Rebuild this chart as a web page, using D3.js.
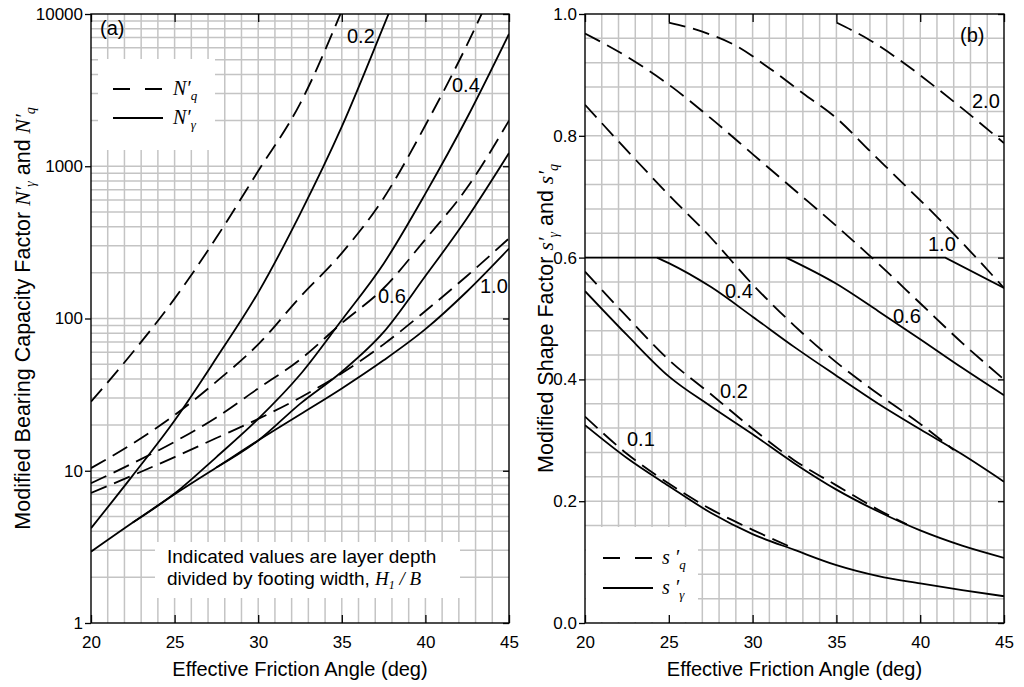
<!DOCTYPE html>
<html><head><meta charset="utf-8">
<script src="https://cdn.jsdelivr.net/npm/d3@7"></script>
<style>body{margin:0;background:#fff}svg{display:block}</style>
</head><body><svg id="c" width="1024" height="687"></svg>
<script>
// ---------- data: panel (a) bearing capacity factors ----------
const phi = [20,22.5,25,27.5,30,32.5,35,37.5,40,42.5,45];
const nqPhi02 = [20,22.5,25,27.5,30,32.5,35];
const nq02 = [28.4,60,135,340,930,2570,10500];
const nq04 = [10.4,15.1,23.2,38.5,67.6,138,269,617,1860,6310,25100];
const nq06 = [8.28,11.2,15.5,22.4,34.7,53.7,93.3,158,331,724,1995];
const nq10 = [7.14,9.33,12.3,16.4,21.9,30.2,43.7,67.6,112,191,336];
const ngPhi02 = [20,22.5,25,27.5,30,32.5,35,37.5,40];
const ng02 = [4.19,9.33,21.4,55,148,485,1820,8320,39800];
const ngPhi04 = [22.5,25,27.5,30,32.5,35,37.5,40,42.5,45];
const ng04 = [4.57,7.08,12.3,21.9,42.7,97.7,229,661,2090,7400];
const ngPhi06 = [27.5,30,32.5,35,37.5,40,42.5,45];
const ng06 = [10.5,15.8,27.5,44.7,81.3,190,457,1220];
const ng10 = [2.94,4.57,7.0,10.5,15.8,23.4,34.7,53.1,85.1,151,288];
const nLabels = ["0.2","0.4","0.6","1.0"];
const nTicks = [1,10,100,1000,10000];

// ---------- data: panel (b) shape factors ----------
const sqPhi20 = [35,37,39,41,43,45];
const sq20 = [0.986,0.957,0.92,0.878,0.834,0.788];
const sqPhi10 = [25,27,29,31,33,35,37,39,41,43,45];
const sq10 = [0.986,0.971,0.948,0.911,0.870,0.829,0.775,0.721,0.667,0.61,0.55];
const sq06 = [0.968,0.930,0.884,0.829,0.770,0.711,0.652,0.590,0.525,0.460,0.400];
const sqPhi04 = [20,22.5,25,27.5,30,32.5,35,37.5,40,42];
const sq04 = [0.851,0.776,0.703,0.633,0.556,0.488,0.428,0.376,0.327,0.284];
const sqPhi02 = [20,22.5,25,27.5,30,32.5,35,37.5,39.2];
const sq02 = [0.577,0.503,0.432,0.376,0.319,0.267,0.226,0.186,0.162];
const sqPhi01 = [20,22.5,25,27.5,30,32.5];
const sq01 = [0.339,0.278,0.229,0.187,0.153,0.122];
const sgPhi10 = [20,41.5,45];
const sg10 = [0.6,0.6,0.55];
const sgPhi06 = [32,35,37.5,40,42.5,45];
const sg06 = [0.6,0.557,0.512,0.466,0.419,0.374];
const sgPhi04 = [24.3,25,27.5,30,32.5,35,37.5,40,42.5,45];
const sg04 = [0.6,0.591,0.552,0.503,0.453,0.406,0.36,0.318,0.277,0.232];
const sg02 = [0.545,0.473,0.405,0.356,0.31,0.262,0.219,0.183,0.152,0.127,0.107];
const sg01 = [0.325,0.271,0.225,0.181,0.146,0.12,0.095,0.077,0.065,0.054,0.044];
const sLabels = ["0.1","0.2","0.4","0.6","1.0","2.0"];
const sTicks = [0,0.2,0.4,0.6,0.8,1.0];
const xTicks = [20,25,30,35,40,45];

// ---------- drawing ----------
const SANS = '"Liberation Sans", Arial, Helvetica, sans-serif';
const SERIF = '"Liberation Serif", "Times New Roman", Times, serif';
const GRID = '#c4c4c4';
const DASH = '17,8';
const svg = d3.select('#c').style('font-family', SANS);
svg.append('rect').attr('width',1024).attr('height',687).attr('fill','#fff');

const zip = (xs, ys) => xs.map((v,i)=>[v, ys[i]]);

function makePanel(id, x, y, hGrid, boxes) {
  const [x0,x1] = x.range(), [y0,y1] = [y.range()[1], y.range()[0]];
  const g = svg.append('g');
  svg.append('clipPath').attr('id','clip'+id).append('rect')
     .attr('x',x0).attr('y',y0).attr('width',x1-x0).attr('height',y1-y0);
  g.append('g').selectAll('line').data(d3.range(21,45)).join('line')
    .attr('x1',d=>x(d)).attr('x2',d=>x(d)).attr('y1',y0).attr('y2',y1)
    .attr('stroke',GRID).attr('stroke-width',1.5);
  g.append('g').selectAll('line').data(hGrid).join('line')
    .attr('x1',x0).attr('x2',x1).attr('y1',d=>y(d)).attr('y2',d=>y(d))
    .attr('stroke',GRID).attr('stroke-width',1.5);
  boxes.forEach(b => g.append('rect').attr('x',b[0]).attr('y',b[1]).attr('width',b[2]).attr('height',b[3]).attr('fill','#fff'));
  const curves = g.append('g').attr('clip-path','url(#clip'+id+')');
  return {g, curves, x, y, x0, x1, y0, y1};
}

function addCurve(p, pts, dashed, linear) {
  const line = d3.line().x(d=>p.x(d[0])).y(d=>p.y(d[1]))
    .curve(linear ? d3.curveLinear : d3.curveMonotoneX);
  p.curves.append('path').attr('d', line(pts)).attr('fill','none')
    .attr('stroke','#000').attr('stroke-width',1.8)
    .attr('stroke-dasharray', dashed ? DASH : null);
}

function frameAndAxes(p, yAxisGen) {
  const {g,x,y,x0,x1,y0,y1} = p;
  const ax = g.append('g').attr('transform',`translate(0,${y1})`)
    .call(d3.axisBottom(x).tickValues(xTicks).tickFormat(d3.format('d')).tickSizeInner(-8).tickSizeOuter(0).tickPadding(13));
  const at = g.append('g').attr('transform',`translate(0,${y0})`)
    .call(d3.axisTop(x).tickValues(xTicks).tickFormat('').tickSizeInner(-8).tickSizeOuter(0));
  const al = g.append('g').attr('transform',`translate(${x0},0)`).call(yAxisGen(d3.axisLeft(y)).tickSizeInner(6).tickSizeOuter(0).tickPadding(2));
  const ar = g.append('g').attr('transform',`translate(${x1},0)`).call(yAxisGen(d3.axisRight(y)).tickFormat('').tickSizeInner(-6).tickSizeOuter(0));
  [ax,at,al,ar].forEach(a => {
    a.select('.domain').remove();
    a.selectAll('line').attr('stroke','#000').attr('stroke-width',1.3);
    a.selectAll('text').attr('font-family',SANS).attr('font-size',17).attr('fill','#000');
  });
  g.append('rect').attr('x',x0).attr('y',y0).attr('width',x1-x0).attr('height',y1-y0)
    .attr('fill','none').attr('stroke','#000').attr('stroke-width',1.4);
  g.append('text').attr('x',(x0+x1)/2).attr('y',676).attr('text-anchor','middle')
    .attr('font-size',20).text('Effective Friction Angle (deg)');
}

function label(txt, x, y, size) {
  svg.append('text').attr('x',x).attr('y',y).attr('font-size',size||20).attr('fill','#000').text(txt);
}

function symText(parent, base, sub, size, subSize) {
  parent.append('tspan').attr('font-family',SERIF).attr('font-style','italic').attr('font-size',size).text(base);
  parent.append('tspan').attr('font-family',SERIF).attr('font-style','italic').attr('font-size',subSize).attr('dy',5).text(sub);
}

// ----- panel (a)
const xa = d3.scaleLinear([20,45],[91,509]);
const ya = d3.scaleLog([1,10000],[623,14]);
const hGridA = [];
[1,10,100,1000].forEach(d => d3.range(1,10).forEach(k => { if (k*d>1) hGridA.push(k*d); }));
const pa = makePanel('a', xa, ya, hGridA, [[98,59,117,91],[155,542,305,56]]);
addCurve(pa, zip(nqPhi02,nq02), true);
addCurve(pa, zip(phi,nq04), true);
addCurve(pa, zip(phi,nq06), true);
addCurve(pa, zip(phi,nq10), true);
addCurve(pa, zip(ngPhi02,ng02), false);
addCurve(pa, zip(ngPhi04,ng04), false);
addCurve(pa, zip(ngPhi06,ng06), false);
addCurve(pa, zip(phi,ng10), false);
frameAndAxes(pa, a => a.tickValues(nTicks).tickFormat(d3.format('d')));

// ----- panel (b)
const xb = d3.scaleLinear([20,45],[585,1004]);
const yb = d3.scaleLinear([0,1],[623,14]);
const hGridB = d3.range(1,25).map(k => +(k*0.04).toFixed(2));
const pb = makePanel('b', xb, yb, hGridB, [[586,527,112,95]]);
addCurve(pb, zip(sqPhi20,sq20), true);
addCurve(pb, zip(sqPhi10,sq10), true);
addCurve(pb, zip(phi,sq06), true);
addCurve(pb, zip(sqPhi04,sq04), true);
addCurve(pb, zip(sqPhi02,sq02), true);
addCurve(pb, zip(sqPhi01,sq01), true);
addCurve(pb, zip(sgPhi10,sg10), false, true);
addCurve(pb, zip(sgPhi06,sg06), false);
addCurve(pb, zip(sgPhi04,sg04), false);
addCurve(pb, zip(phi,sg02), false);
addCurve(pb, zip(phi,sg01), false);
frameAndAxes(pb, a => a.tickValues(sTicks).tickFormat(d3.format('.1f')));

// ----- curve labels
label('(a)', 100, 35);
label(nLabels[0], 347, 43);
label(nLabels[1], 452, 92);
label(nLabels[2], 378, 303);
label(nLabels[3], 480, 293);
label('(b)', 960, 42);
label(sLabels[5], 972, 108);
label(sLabels[4], 928, 251);
label(sLabels[2], 725, 298);
label(sLabels[3], 893, 323);
label(sLabels[1], 720, 398);
label(sLabels[0], 627, 446);

// ----- legend (a)
const lgA = svg.append('g');
lgA.append('line').attr('x1',113).attr('x2',163).attr('y1',89).attr('y2',89).attr('stroke','#000').attr('stroke-width',1.8).attr('stroke-dasharray','17,15');
lgA.append('line').attr('x1',113).attr('x2',163).attr('y1',118).attr('y2',118).attr('stroke','#000').attr('stroke-width',1.8);
let t = lgA.append('text').attr('x',173).attr('y',95);
symText(t,'N′','q',20,13);
t = lgA.append('text').attr('x',173).attr('y',124);
symText(t,'N′','γ',20,13);

// ----- legend (b)
const lgB = svg.append('g');
lgB.append('line').attr('x1',603).attr('x2',653).attr('y1',558).attr('y2',558).attr('stroke','#000').attr('stroke-width',1.8).attr('stroke-dasharray','17,15');
lgB.append('line').attr('x1',603).attr('x2',653).attr('y1',588).attr('y2',588).attr('stroke','#000').attr('stroke-width',1.8);
t = lgB.append('text').attr('x',662).attr('y',564);
symText(t,'s ′','q',20,13);
t = lgB.append('text').attr('x',662).attr('y',594);
symText(t,'s ′','γ',20,13);

// ----- note in panel (a)
svg.append('text').attr('x',167).attr('y',563).attr('font-size',19).text('Indicated values are layer depth');
t = svg.append('text').attr('x',167).attr('y',585).attr('font-size',19);
t.append('tspan').text('divided by footing width, ');
t.append('tspan').attr('font-family',SERIF).attr('font-style','italic').text('H');
t.append('tspan').attr('font-family',SERIF).attr('font-style','italic').attr('font-size',12).attr('dy',4).text('1');
t.append('tspan').attr('font-family',SERIF).attr('font-style','italic').attr('dy',-4).text(' / B');

// ----- y titles
t = svg.append('text').attr('transform','translate(30,318.5) rotate(-90)').attr('text-anchor','middle').attr('font-size',21.5);
t.append('tspan').text('Modified Bearing Capacity Factor ');
symText(t,'N′','γ',21.5,14);
t.append('tspan').attr('dy',-5).text(' and ');
symText(t,'N′','q',21.5,14);

t = svg.append('text').attr('transform','translate(553,318.5) rotate(-90)').attr('text-anchor','middle').attr('font-size',21.5);
t.append('tspan').text('Modified Shape Factor ');
symText(t,'s′','γ',21.5,14);
t.append('tspan').attr('dy',-5).text(' and ');
symText(t,'s′','q',21.5,14);
</script></body></html>
